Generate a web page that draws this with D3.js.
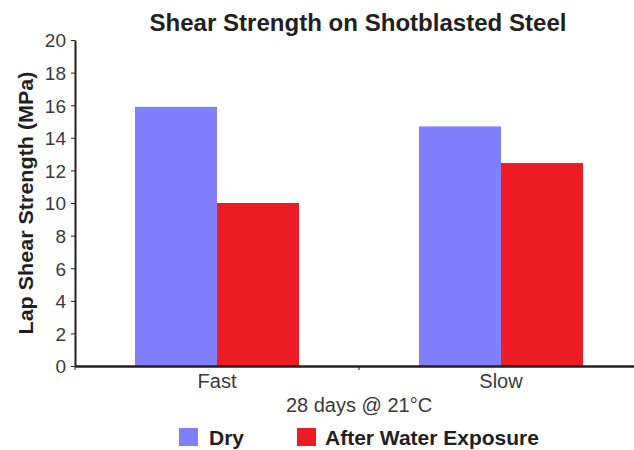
<!DOCTYPE html>
<html>
<head>
<meta charset="utf-8">
<script src="https://cdn.jsdelivr.net/npm/d3@7"></script>
<style>
  body { margin: 0; background: #fff; }
  text { font-family: "Liberation Sans", Arial, sans-serif; }
</style>
</head>
<body>
<svg class="chart" width="634" height="450"></svg>
<script>
const categories = ["Fast", "Slow"];
const seriesNames = ["Dry", "After Water Exposure"];
const dryValues = [15.9, 14.7];
const wetValues = [10.0, 12.45];
const yTicks = [0, 2, 4, 6, 8, 10, 12, 14, 16, 18, 20];
const colors = ["#8080ff", "#ed1c24"];

const svg = d3.select(".chart");
const plotLeft = 75, plotRight = 643, plotTop = 40, plotBottom = 366;

const x = d3.scaleBand().domain(categories).range([plotLeft, plotRight]).paddingInner(0).paddingOuter(0);
const inner = d3.scaleBand().domain(seriesNames).range([60, x.bandwidth() - 60]);
const y = d3.scaleLinear().domain([0, 20]).range([plotBottom, plotTop]);

const data = categories.map((c, i) => ({cat: c, values: [dryValues[i], wetValues[i]]}));

// bars
svg.append("g").selectAll("g")
  .data(data)
  .enter().append("g")
  .attr("transform", d => `translate(${x(d.cat)},0)`)
  .selectAll("rect")
  .data(d => d.values.map((v, j) => ({name: seriesNames[j], v: v, j: j})))
  .enter().append("rect")
  .attr("x", d => inner(d.name))
  .attr("width", inner.bandwidth())
  .attr("y", d => y(d.v))
  .attr("height", d => y(0) - y(d.v))
  .attr("fill", d => colors[d.j]);

// y axis
const yAxis = svg.append("g")
  .attr("transform", `translate(${plotLeft},0)`)
  .call(d3.axisLeft(y).tickValues(yTicks).tickSize(4).tickPadding(5).tickSizeOuter(0));
yAxis.select(".domain").attr("stroke", "#231f20").attr("stroke-width", 2);
yAxis.selectAll(".tick line").attr("stroke", "#231f20");
yAxis.selectAll(".tick text").style("font-size", "19px").attr("fill", "#3a3a3a").attr("dy", "0.36em");

// x axis
const xAxis = svg.append("g")
  .attr("transform", `translate(0,${plotBottom})`)
  .call(d3.axisBottom(x).tickSize(0).tickPadding(8));
xAxis.select(".domain").attr("stroke", "#231f20").attr("stroke-width", 2.5);
xAxis.selectAll(".tick text").style("font-size", "20px").attr("fill", "#3a3a3a");
// separator ticks between categories
svg.append("g").selectAll("line")
  .data([plotLeft, x("Slow")])
  .enter().append("line")
  .attr("x1", d => d).attr("x2", d => d)
  .attr("y1", plotBottom).attr("y2", plotBottom + 4)
  .attr("stroke", "#231f20");

// titles
svg.append("text")
  .attr("x", 358).attr("y", 31)
  .attr("text-anchor", "middle")
  .style("font-size", "23px").style("font-weight", "bold")
  .attr("fill", "#231f20")
  .attr("textLength", 417).attr("lengthAdjust", "spacingAndGlyphs")
  .text("Shear Strength on Shotblasted Steel");

svg.append("text")
  .attr("transform", `translate(33,203) rotate(-90)`)
  .attr("text-anchor", "middle")
  .style("font-size", "20px").style("font-weight", "bold")
  .attr("fill", "#231f20")
  .attr("textLength", 263).attr("lengthAdjust", "spacingAndGlyphs")
  .text("Lap Shear Strength (MPa)");

svg.append("text")
  .attr("x", 359).attr("y", 412)
  .attr("text-anchor", "middle")
  .style("font-size", "20px")
  .attr("fill", "#3a3a3a")
  .text("28 days @ 21°C");

// legend
const legendX = [179, 297];
const legend = svg.append("g").selectAll("g")
  .data(seriesNames)
  .enter().append("g")
  .attr("transform", (d, i) => `translate(${legendX[i]},428)`);
legend.append("rect").attr("width", 19).attr("height", 18).attr("fill", (d, i) => colors[i]);
legend.append("text")
  .attr("x", (d, i) => i === 0 ? 30 : 28).attr("y", 17)
  .style("font-size", "21px").style("font-weight", "bold")
  .attr("fill", "#231f20")
  .text(d => d);
</script>
</body>
</html>
